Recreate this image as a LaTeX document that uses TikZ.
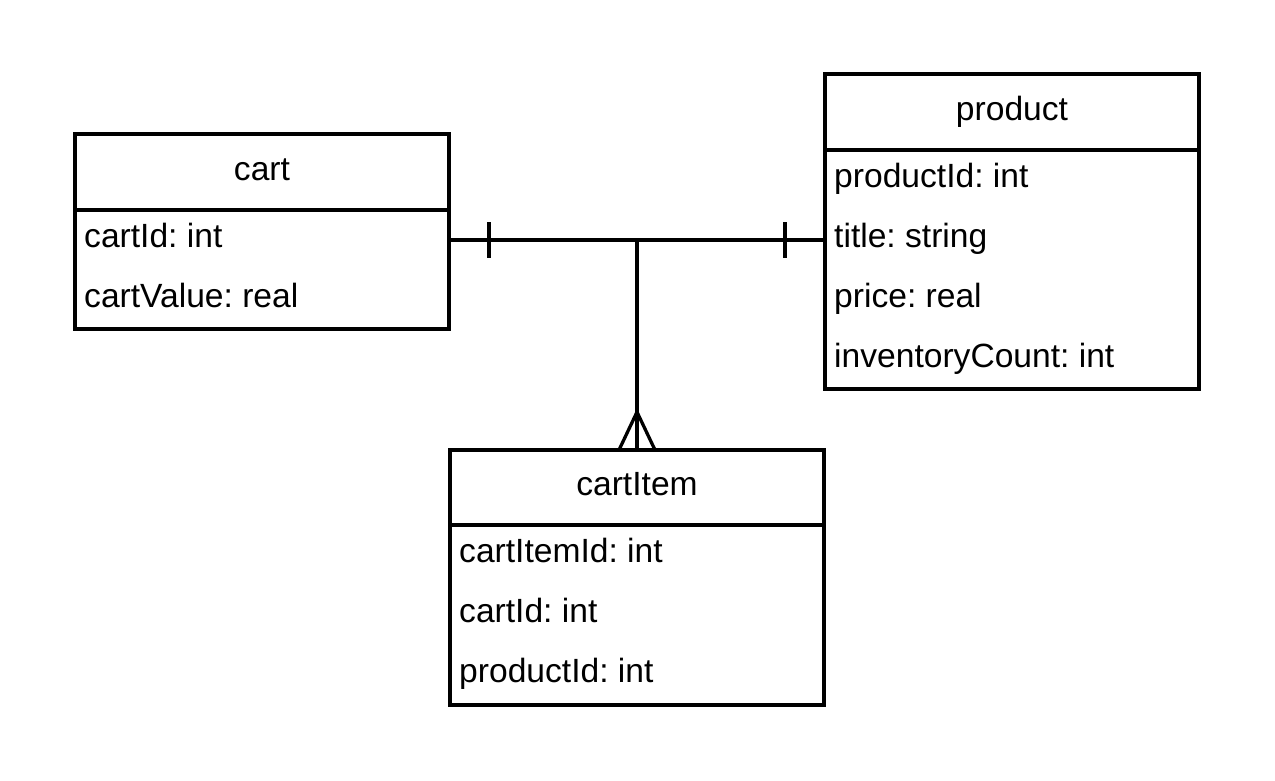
\documentclass[tikz,border=0pt]{standalone}
\usepackage{fontspec}
\setmainfont{Liberation Sans}
\frenchspacing
\begin{document}
\begin{tikzpicture}[x=1pt,y=-1pt,
  box/.style={draw,line width=3.3pt,rectangle,inner sep=0pt,outer sep=0pt,anchor=north west},
  conn/.style={line width=3.3pt},
  ttl/.style={anchor=base,inner sep=0pt,font=\fontsize{33.6}{40}\selectfont\frenchspacing},
  fld/.style={anchor=base west,inner sep=0pt,font=\fontsize{33.6}{40}\selectfont\frenchspacing}]
\useasboundingbox (0,0) rectangle (1275,780);
% entities
\node[box,minimum width=374pt,minimum height=195pt] (cart) at (75,134) {};
\node[box,minimum width=374pt,minimum height=315pt] (product) at (825,74) {};
\node[box,minimum width=374pt,minimum height=255pt] (cartItem) at (450,450) {};
% dividers
\draw[conn] ([yshift=-76pt]cart.north west) -- ([yshift=-76pt]cart.north east);
\draw[conn] ([yshift=-76pt]product.north west) -- ([yshift=-76pt]product.north east);
\draw[conn] ([yshift=-75pt]cartItem.north west) -- ([yshift=-75pt]cartItem.north east);
% texts
\node[ttl] (cartT) at (262,180) {cart};
\node[fld] (cartF1) at (84,247) {cartId: int};
\node[fld] (cartF2) at (84,307) {cartValue: real};
\node[ttl] (productT) at (1012,120) {product};
\node[fld] (productF1) at (834,187) {productId: int};
\node[fld] (productF2) at (834,247) {title: string};
\node[fld] (productF3) at (834,307) {price: real};
\node[fld] (productF4) at (834,367) {inventoryCount: int};
\node[ttl] (cartItemT) at (637,495) {cartItem};
\node[fld] (cartItemF1) at (459,562) {cartItemId: int};
\node[fld] (cartItemF2) at (459,622) {cartId: int};
\node[fld] (cartItemF3) at (459,682) {productId: int};
% connectors
\coordinate (j) at (637,240);
\draw[conn] (cart.east |- j) -- (product.west |- j);
\draw[conn] (j) -- (cartItem.north);
% one marks
\draw[conn] ([xshift=40pt]cart.east |- j) ++(0,-18) -- ++(0,36);
\draw[conn] ([xshift=-40pt]product.west |- j) ++(0,-18) -- ++(0,36);
% crow's foot
\draw[conn] ([xshift=-18pt]cartItem.north) -- ([yshift=38pt]cartItem.north) -- ([xshift=18pt]cartItem.north);
\end{tikzpicture}
\end{document}
